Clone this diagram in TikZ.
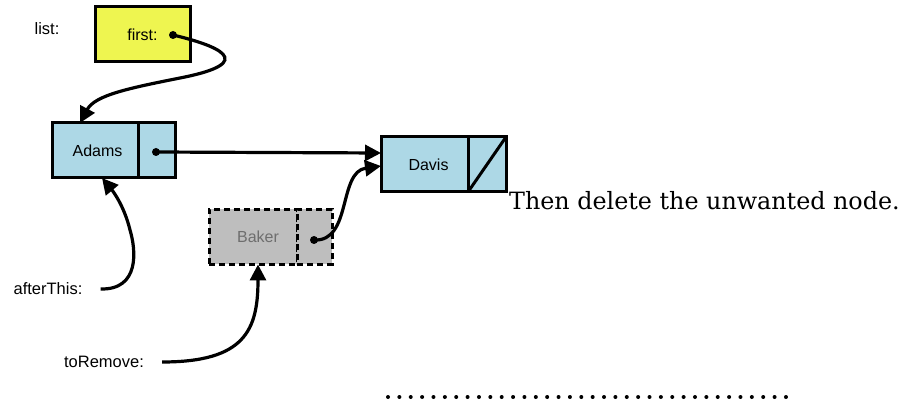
\documentclass[tikz,border=0pt]{standalone}
\usepackage{fontspec}
\setmainfont{Liberation Sans}
\newfontfamily\captionfont{DejaVu Serif}
\usetikzlibrary{arrows.meta}
\definecolor{firstfill}{HTML}{EEF550}
\definecolor{cellfill}{HTML}{ADD8E6}
\definecolor{ghostfill}{HTML}{BEBEBE}
\definecolor{ghosttext}{HTML}{6E6E6E}
\tikzset{
  cell/.style={draw, line width=3pt, inner sep=0pt, outer sep=0pt,
    minimum height=55pt, font=\fontsize{16}{18}\selectfont},
  ghost/.style={cell, dashed, dash pattern=on 6pt off 4pt, fill=ghostfill, text=ghosttext},
  ptrdot/.style={circle, fill=black, inner sep=0pt, minimum size=8pt},
  lbl/.style={font=\fontsize{16.5}{18}\selectfont, inner sep=0pt},
  link/.style={line width=3.2pt, -{Triangle[length=16pt,width=16pt]}},
}
\begin{document}
\begin{tikzpicture}[x=1pt,y=-1pt]
\useasboundingbox (0,0) rectangle (902,403);

% head variable
\node[lbl] (listlbl) at (47,29) {list:};
\node[cell, fill=firstfill, minimum width=95pt] (first) at (142.5,34.5) {first:};
\node[ptrdot] (fdot) at (173,35) {};

% Adams cell
\node[cell, fill=cellfill, minimum width=86pt] (adams) at (95,150.5) {\hspace*{5pt}Adams};
\node[cell, fill=cellfill, minimum width=37pt] (adamsptr) at (156.5,150.5) {};
\node[ptrdot] (adot) at (156,152) {};

% Davis cell (null next)
\node[cell, fill=cellfill, minimum width=87pt] (davis) at (424.5,164.5) {\hspace*{8pt}Davis};
\node[cell, fill=cellfill, minimum width=38pt] (davisptr) at (487,164.5) {};
\draw[line width=3pt] (davisptr.south west) -- (davisptr.north east);

% Baker cell, being removed
\node[ghost, minimum width=88pt] (baker) at (253,237) {\hspace*{10pt}Baker};
\node[ghost, minimum width=35pt] (bakerptr) at (314.5,237) {};
\node[ptrdot] (bdot) at (314,240) {};

% helper variables
\node[lbl] (afterlbl) at (48,289) {afterThis:};
\node[lbl] (removelbl) at (104,362) {toRemove:};

% caption
\node[anchor=base west, inner sep=0pt, font=\captionfont\fontsize{23.8}{26}\selectfont] (caption) at (509,210) {Then delete the unwanted node.};

% links
\draw[link] (fdot.center) .. controls (215,45) and (262,62) .. (180,78)
  .. controls (130,88) and (95,95) .. ([xshift=-15pt]adams.north);
\draw[link] (adot.center) -- ([yshift=11.5pt]davis.west);
\draw[link] (bdot.center) .. controls (352,242) and (338,172) .. ([yshift=-1.5pt]davis.west);
\draw[link] ([xshift=18pt]afterlbl.east) .. controls (140,290) and (136,250) .. (130,230)
  .. controls (124,205) and (112,190) .. ([xshift=7pt]adams.south);
\draw[link] ([xshift=18pt]removelbl.east) .. controls (245,362) and (258,330) .. ([xshift=5pt]baker.south);

% dotted rule
\coordinate (rulestart) at (388,397);
\coordinate (ruleend) at (786,397);
\draw[line width=4pt, line cap=round, dash pattern=on 0pt off 11.37pt] (rulestart) -- (ruleend);
\end{tikzpicture}
\end{document}
